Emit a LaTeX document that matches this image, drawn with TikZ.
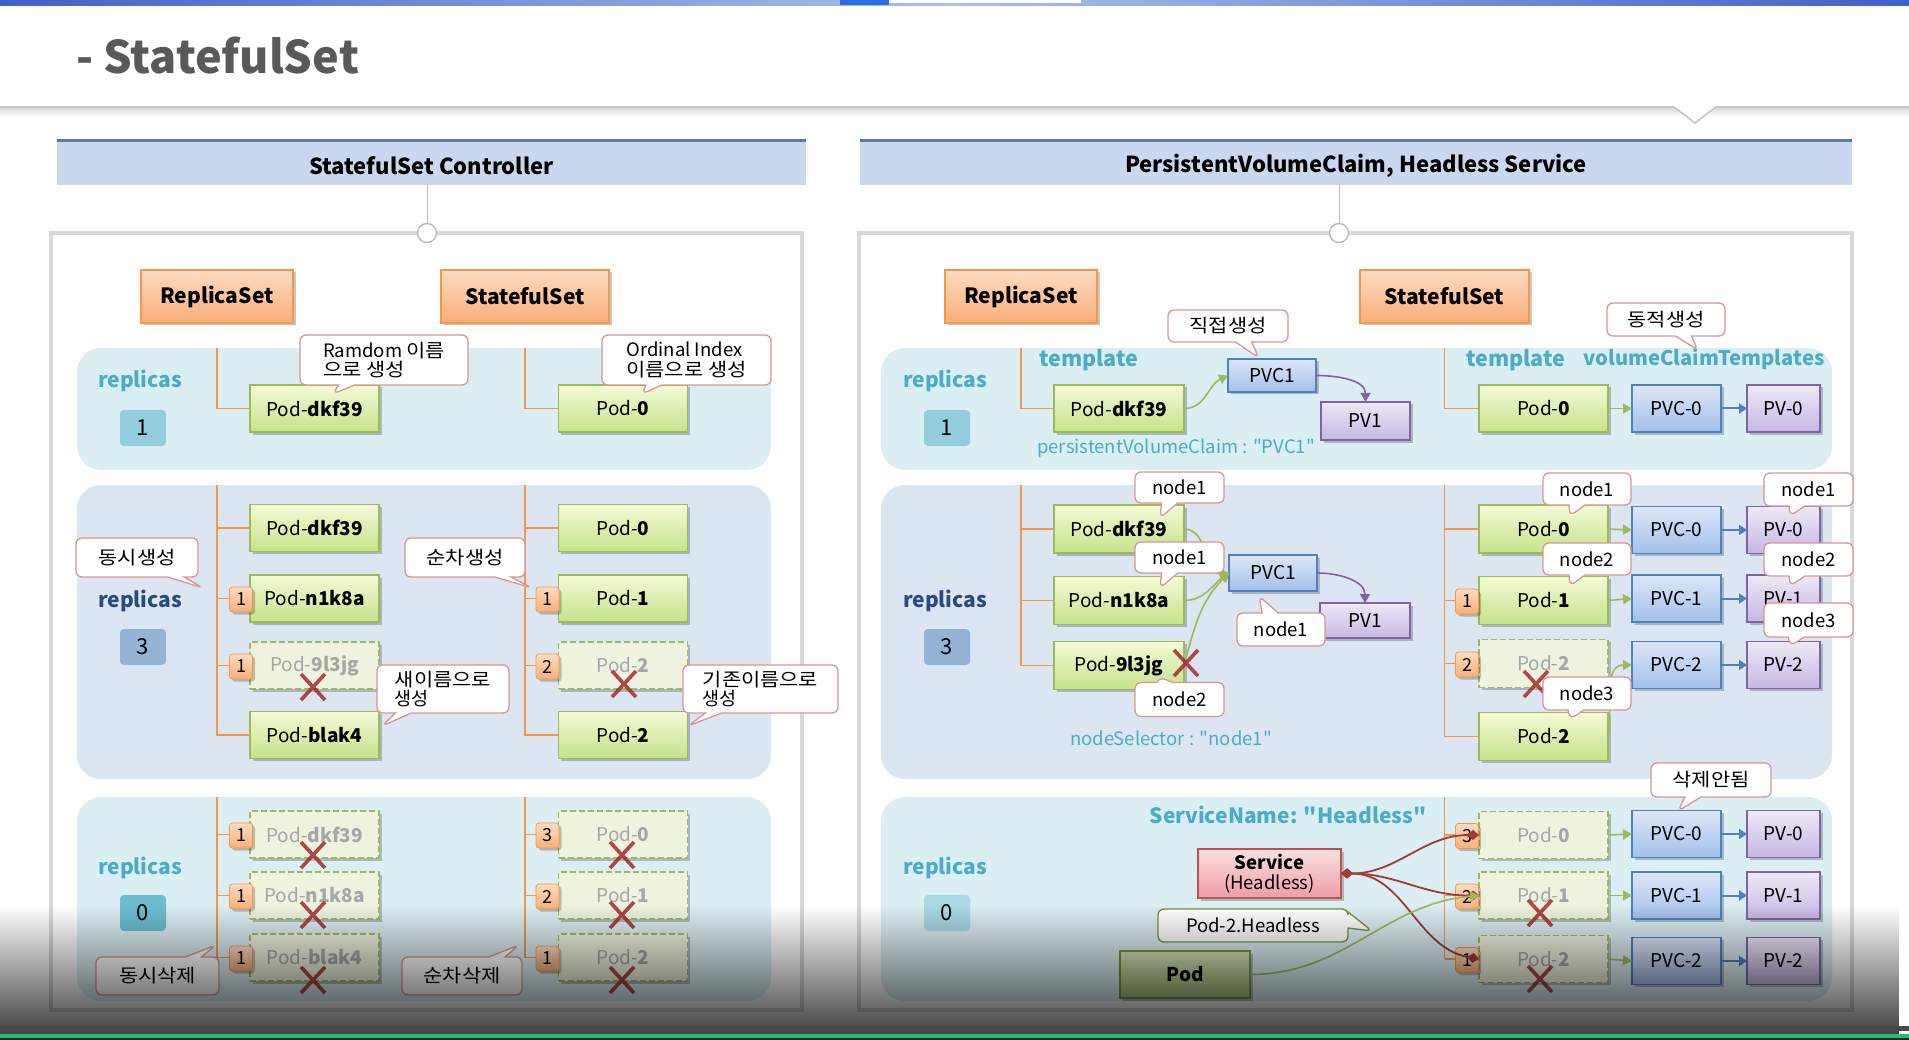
\documentclass[tikz,border=0pt]{standalone}
\usepackage{fontspec}
\setmainfont{Noto Sans CJK KR}
\newfontfamily\qfont{Noto Sans CJK KR}
\newfontfamily\kfont{Noto Sans CJK KR}[FakeStretch=1.13]
\usetikzlibrary{shapes.callouts,shadows,fadings,arrows.meta,calc}

\definecolor{stripblue}{HTML}{3E62C6}
\definecolor{striplight}{HTML}{A9C2E6}
\definecolor{stripdeep}{HTML}{2C6EE0}
\definecolor{titlegray}{HTML}{595959}
\definecolor{hdrfill}{HTML}{C9D8EF}
\definecolor{hdrline}{HTML}{5A7BAA}
\definecolor{panelln}{HTML}{D9D9D9}
\definecolor{bandcyan}{HTML}{DBEEF4}
\definecolor{bandblue}{HTML}{DCE6F2}
\definecolor{tealtxt}{HTML}{4BACC6}
\definecolor{navytxt}{HTML}{2A4C7C}
\definecolor{cntone}{HTML}{92CDDC}
\definecolor{cntthree}{HTML}{95B3D7}
\definecolor{cntzeroA}{HTML}{6DBDD1}
\definecolor{cntzeroB}{HTML}{A9D8E3}
\definecolor{orgtop}{HTML}{FDDCC2}
\definecolor{orgbot}{HTML}{F9AE78}
\definecolor{orgln}{HTML}{F79646}
\definecolor{podtop}{HTML}{F3FAD6}
\definecolor{podbot}{HTML}{C5E38A}
\definecolor{podln}{HTML}{9BBB59}
\definecolor{fadefill}{HTML}{EEF3DE}
\definecolor{fadetxt}{HTML}{A6A6A6}
\definecolor{pvctop}{HTML}{DCE7F7}
\definecolor{pvcbot}{HTML}{A3BFEB}
\definecolor{pvcln}{HTML}{4F81BD}
\definecolor{pvtop}{HTML}{EEE8F6}
\definecolor{pvbot}{HTML}{C7B6E3}
\definecolor{pvln}{HTML}{8064A2}
\definecolor{svctop}{HTML}{FBE0E0}
\definecolor{svcbot}{HTML}{EE9DA6}
\definecolor{svcln}{HTML}{C0504D}
\definecolor{olvtop}{HTML}{D7E4BD}
\definecolor{olvbot}{HTML}{A9C47C}
\definecolor{olvln}{HTML}{77933C}
\definecolor{callln}{HTML}{D99694}
\definecolor{xred}{HTML}{A8282C}
\definecolor{redln}{HTML}{A33A3A}
\definecolor{greenbar}{HTML}{21BF73}

\newcommand\fsTitle{\fontsize{45}{50}\selectfont\bfseries}
\newcommand\fsHead{\fontsize{22}{26}\selectfont\bfseries}
\newcommand\fsSet{\fontsize{21}{24}\selectfont\bfseries}
\newcommand\fsPod{\fontsize{19}{22}\selectfont}
\newcommand\fsRep{\fontsize{21}{24}\selectfont\bfseries}
\newcommand\fsTpl{\fontsize{21.5}{24}\selectfont\bfseries}
\newcommand\fsVct{\fontsize{20.2}{24}\selectfont\bfseries}
\newcommand\fsCnt{\fontsize{22}{24}\selectfont}
\newcommand\fsCall{\fontsize{18.5}{19.5}\selectfont}
\newcommand\fsNote{\fontsize{18.5}{22}\selectfont}
\newcommand\fsBadge{\fontsize{18}{20}\selectfont}
\newcommand\fsSvc{\fontsize{18.5}{20.5}\selectfont}
% straight double quote, kept out of the TeX quote mapping
\newcommand\dq{{\qfont"}}

\tikzfading[name=fadedown, top color=transparent!100, bottom color=transparent!22]

\tikzset{
  every node/.style={inner sep=0pt, outer sep=0pt},
  shadowed/.style={drop shadow={shadow xshift=2.5pt, shadow yshift=-2.5pt, opacity=0.22, fill=black}},
  hdrbar/.style={fill=hdrfill, minimum height=44},
  panel/.style={draw=panelln, line width=4pt, fill=white},
  hub/.style={circle, draw=gray!55, fill=white, line width=1.4pt, minimum size=19},
  band/.style={rounded corners=24pt},
  setbox/.style={shadowed, draw=orgln, line width=1.3pt, top color=orgtop, bottom color=orgbot, minimum height=53, font=\fsSet},
  pod/.style={shadowed, draw=podln, line width=1.3pt, top color=podtop, bottom color=podbot, minimum width=129, minimum height=47, font=\fsPod},
  gone/.style={shadowed, draw=podln, line width=1.3pt, dash pattern=on 6pt off 3pt, fill=fadefill, minimum width=129, minimum height=47, font=\fsPod, text=fadetxt},
  pvc/.style={shadowed, draw=pvcln, line width=1.3pt, top color=pvctop, bottom color=pvcbot, minimum width=89, minimum height=47, font=\fsPod},
  pv/.style={shadowed, draw=pvln, line width=1.3pt, top color=pvtop, bottom color=pvbot, minimum width=73, minimum height=47, font=\fsPod},
  svcbox/.style={shadowed, draw=svcln, line width=1.3pt, top color=svctop, bottom color=svcbot, align=center, font=\fsSvc},
  olvbox/.style={shadowed, draw=olvln, line width=1.3pt, top color=olvtop, bottom color=olvbot, font=\fsPod},
  badge/.style={shadowed, draw=orgln, line width=0.8pt, rounded corners=3pt, top color=orgtop, bottom color=orgbot, minimum width=23, minimum height=25, font=\fsBadge},
  cnt/.style={rounded corners=4pt, minimum width=46, minimum height=36, font=\fsCnt},
  rep/.style={font=\fsRep},
  note/.style={font=\fsNote, text=tealtxt},
  bubble/.style={rectangle callout, draw=callln, fill=white, line width=1.3pt, rounded corners=6pt, font=\fsCall, align=left, callout pointer width=16pt},
  treeln/.style={draw=orgln, line width=1.8pt},
  xmk/.style={draw=xred, line width=3.6pt, draw opacity=0.85},
  grn/.style={draw=podln, line width=1.6pt, -{Triangle[width=10pt,length=9pt]}},
  blu/.style={draw=pvcln, line width=2pt, -{Triangle[width=10pt,length=8pt]}},
  prp/.style={draw=pvln, line width=1.6pt, -{Triangle[width=10pt,length=9pt]}},
  svclink/.style={draw=redln, line width=1.8pt, {Diamond[width=10pt,length=12pt]}-{Diamond[width=10pt,length=12pt]}},
}

\newcommand\podtag[4]{\node[badge] (#1) at ($(#2.west)+(#4,1)$) {#3};}
\newcommand\redx[2]{\draw[xmk] (#1-12,#2-13) -- (#1+12,#2+13) (#1-12,#2+13) -- (#1+12,#2-13);}

\begin{document}
\begin{tikzpicture}[x=1pt,y=-1pt]
\useasboundingbox (0,0) rectangle (1909,1040);
\fill[white] (0,0) rectangle (1909,1040);

% slide strip, title and rule
\shade[left color=stripblue, right color=stripblue, middle color=striplight] (0,0) rectangle (1909,6);
\fill[stripdeep] (840,0) rectangle (889,5);
\fill[white] (889,0) rectangle (1081,3);
\node[font=\fsTitle, text=titlegray, anchor=west] (title) at (76,56) {- StatefulSet};
\shade[top color=gray!30, bottom color=white] (0,108) rectangle (1909,116);
\fill[white] (1672,106) -- (1695,124) -- (1718,106) -- cycle;
\draw[gray!45, line width=1.6pt] (0,107) -- (1674,107) -- (1695,123) -- (1716,107) -- (1909,107);

% ---------- section headers and panels ----------
\node[hdrbar, minimum width=749] (lhdr) at (431.5,163) {};
\draw[hdrline, line width=3pt] (lhdr.north west) -- (lhdr.north east);
\node[font=\fsHead] (lhdrtxt) at (431.5,166) {StatefulSet Controller};
\node[hdrbar, minimum width=992] (rhdr) at (1356,163) {};
\draw[hdrline, line width=3pt] (rhdr.north west) -- (rhdr.north east);
\node[font=\fsHead] (rhdrtxt) at (1356,166) {PersistentVolumeClaim, Headless Service};

\node[panel, minimum width=751, minimum height=777] (lpan) at (426.5,621.5) {};
\node[panel, minimum width=993, minimum height=777] (rpan) at (1355.5,621.5) {};
\node[hub] (lhub) at (427,233) {};
\node[hub] (rhub) at (1339,233) {};
\draw[gray!55, line width=1pt] (lhub.north) -- (lhub.north |- lhdr.south);
\draw[gray!55, line width=1pt] (rhub.north) -- (rhub.north |- rhdr.south);

% ---------- replica bands ----------
\node[band, fill=bandcyan, minimum width=694, minimum height=122] (lb1) at (424,409) {};
\node[band, fill=bandblue, minimum width=694, minimum height=294] (lb2) at (424,632) {};
\node[band, fill=bandcyan, minimum width=694, minimum height=204] (lb3) at (424,899) {};
\node[band, fill=bandcyan, minimum width=951, minimum height=122] (rb1) at (1356.5,409) {};
\node[band, fill=bandblue, minimum width=951, minimum height=294] (rb2) at (1356.5,632) {};
\node[band, fill=bandcyan, minimum width=951, minimum height=204] (rb3) at (1356.5,899) {};

\node[rep, text=tealtxt] (lr1) at (140,381) {replicas};
\node[rep, text=navytxt] (lr2) at (140,601) {replicas};
\node[rep, text=tealtxt] (lr3) at (140,868) {replicas};
\node[cnt, fill=cntone] (lc1) at (143,428) {1};
\node[cnt, fill=cntthree] (lc2) at (143,647) {3};
\node[cnt, fill=cntzeroA] (lc3) at (143,913) {0};
\node[rep, text=tealtxt] (rr1) at (945,381) {replicas};
\node[rep, text=navytxt] (rr2) at (945,601) {replicas};
\node[rep, text=tealtxt] (rr3) at (945,868) {replicas};
\node[cnt, fill=cntone] (rc1) at (947,428) {1};
\node[cnt, fill=cntthree] (rc2) at (947,647) {3};
\node[cnt, fill=cntzeroB] (rc3) at (947,913) {0};

% ---------- controllers ----------
\node[setbox, minimum width=152] (lrs) at (217,296.5) {ReplicaSet};
\node[setbox, minimum width=168] (lss) at (525,296.5) {StatefulSet};
\node[setbox, minimum width=152] (rrs) at (1021,296.5) {ReplicaSet};
\node[setbox, minimum width=169] (rss) at (1444.5,296.5) {StatefulSet};

% ---------- left panel pods ----------
\node[pod] (l1a) at (314.5,408.5) {Pod-\textbf{dkf39}};
\node[pod] (l1b) at (623,408.5) {Pod-\textbf{0}};

\node[pod] (l2a) at (314.5,528) {Pod-\textbf{dkf39}};
\node[pod] (l2b) at (314.5,598.5) {Pod-\textbf{n1k8a}};
\node[gone] (l2c) at (314.5,665.5) {Pod-\textbf{9l3jg}};
\node[pod] (l2d) at (314.5,735) {Pod-\textbf{blak4}};
\node[pod] (l2e) at (623,528) {Pod-\textbf{0}};
\node[pod] (l2f) at (623,598.5) {Pod-\textbf{1}};
\node[gone] (l2g) at (623,665.5) {Pod-\textbf{2}};
\node[pod] (l2h) at (623,735) {Pod-\textbf{2}};

\node[gone] (l3a) at (314.5,834.5) {Pod-\textbf{dkf39}};
\node[gone] (l3b) at (314.5,895.5) {Pod-\textbf{n1k8a}};
\node[gone] (l3c) at (314.5,957.5) {Pod-\textbf{blak4}};
\node[gone] (l3d) at (623,834.5) {Pod-\textbf{0}};
\node[gone] (l3e) at (623,895.5) {Pod-\textbf{1}};
\node[gone] (l3f) at (623,957.5) {Pod-\textbf{2}};

% ownership lines, left panel
\draw[treeln] (lrs.south |- lb1.north) |- (l1a.west);
\draw[treeln] (lss.south |- lb1.north) |- (l1b.west);
\draw[treeln] (lrs.south |- lb2.north) |- (l2d.west);
\foreach \p in {l2a,l2b,l2c} \draw[treeln] (lrs.south |- \p.west) -- (\p.west);
\draw[treeln] (lss.south |- lb2.north) |- (l2h.west);
\foreach \p in {l2e,l2f,l2g} \draw[treeln] (lss.south |- \p.west) -- (\p.west);
\draw[treeln] (lrs.south |- lb3.north) |- (l3c.west);
\foreach \p in {l3a,l3b} \draw[treeln] (lrs.south |- \p.west) -- (\p.west);
\draw[treeln] (lss.south |- lb3.north) |- (l3f.west);
\foreach \p in {l3d,l3e} \draw[treeln] (lss.south |- \p.west) -- (\p.west);

\podtag{tl2b}{l2b}{1}{-9}
\podtag{tl2c}{l2c}{1}{-9}
\podtag{tl2f}{l2f}{1}{-11}
\podtag{tl2g}{l2g}{2}{-11}
\podtag{tl3a}{l3a}{1}{-9}
\podtag{tl3b}{l3b}{1}{-9}
\podtag{tl3c}{l3c}{1}{-9}
\podtag{tl3d}{l3d}{3}{-11}
\podtag{tl3e}{l3e}{2}{-11}
\podtag{tl3f}{l3f}{1}{-11}

\redx{313}{687}
\redx{624}{684}
\redx{313}{855}
\redx{313}{915}
\redx{313}{980}
\redx{622}{855}
\redx{622}{915}
\redx{622}{980}

% ---------- right panel, replicas 1 ----------
\node[pod, minimum width=130] (r1a) at (1119,408.5) {Pod-\textbf{dkf39}};
\node[pvc, minimum width=88, minimum height=33] (r1p) at (1272,375.5) {PVC1};
\node[pv, minimum width=89, minimum height=38] (r1v) at (1365.5,421) {PV1};
\node[pod] (r1b) at (1543.5,408.5) {Pod-\textbf{0}};
\node[pvc] (r1c) at (1676.5,408.5) {PVC-0};
\node[pv] (r1d) at (1783.5,408.5) {PV-0};
\node[font=\fsTpl, text=tealtxt] (tpl1) at (1089,360) {template};
\node[font=\fsTpl, text=tealtxt] (tpl2) at (1516,360) {template};
\node[font=\fsVct, text=tealtxt] (vct) at (1704,359) {volumeClaimTemplates};
\node[note] (pvcnote) at (1176,448) {persistentVolumeClaim : \dq PVC1\dq};

\draw[treeln] (rrs.south |- rb1.north) |- (r1a.west);
\draw[treeln] (rss.south |- rb1.north) |- (r1b.west);
\draw[grn] (r1a.east) to[out=0,in=205] (r1p.west);
\draw[prp] (r1p.east) to[out=0,in=90] (r1v.north);
\draw[grn] (r1b.east) -- (r1c.west);
\draw[blu] (r1c.east) -- (r1d.west);

% ---------- right panel, replicas 3 ----------
\node[pod, minimum width=130, minimum height=48] (r2a) at (1119,529) {Pod-\textbf{dkf39}};
\node[pod, minimum width=130, minimum height=48] (r2b) at (1119,600.5) {Pod-\textbf{n1k8a}};
\node[pod, minimum width=130, minimum height=48] (r2c) at (1119,665.5) {Pod-\textbf{9l3jg}};
\node[pvc, minimum width=88, minimum height=36] (r2p) at (1273,573) {PVC1};
\node[pv, minimum width=90, minimum height=35] (r2v) at (1365,620.5) {PV1};

\node[pod, minimum height=48] (r2d) at (1543.5,529) {Pod-\textbf{0}};
\node[pod, minimum height=48] (r2e) at (1543.5,600.5) {Pod-\textbf{1}};
\node[gone, minimum height=48] (r2f) at (1543.5,663.5) {Pod-\textbf{2}};
\node[pod, minimum height=48] (r2g) at (1543.5,736.5) {Pod-\textbf{2}};
\node[pvc] (r2h) at (1676.5,530) {PVC-0};
\node[pvc] (r2i) at (1676.5,598.5) {PVC-1};
\node[pvc] (r2j) at (1676.5,665) {PVC-2};
\node[pv] (r2k) at (1783.5,530) {PV-0};
\node[pv] (r2l) at (1783.5,598.5) {PV-1};
\node[pv] (r2m) at (1783.5,665) {PV-2};
\node[note] (nsel) at (1171,738) {nodeSelector : \dq node1\dq};

\draw[treeln] (rrs.south |- rb2.north) |- (r2c.west);
\foreach \p in {r2a,r2b} \draw[treeln] (rrs.south |- \p.west) -- (\p.west);
\draw[treeln] (rss.south |- rb2.north) |- (r2g.west);
\foreach \p in {r2d,r2e,r2f} \draw[treeln] (rss.south |- \p.west) -- (\p.west);
\podtag{tr2e}{r2e}{1}{-12}
\podtag{tr2f}{r2f}{2}{-12}

\draw[grn] (r2a.east) to[out=0,in=185] (r2p.west);
\draw[grn] (r2b.east) to[out=0,in=215] (r2p.west);
\draw[grn] (r2c.east) to[out=75,in=225] (r2p.west);
\draw[prp] (r2p.east) to[out=0,in=90] (r2v.north);
\draw[grn] (r2d.east) -- (r2h.west);
\draw[grn] (r2e.east) -- (r2i.west);
\draw[grn] (r2g.east) to[out=80,in=180] (r2j.west);
\draw[blu] (r2h.east) -- (r2k.west);
\draw[blu] (r2i.east) -- (r2l.west);
\draw[blu] (r2j.east) -- (r2m.west);
\redx{1186}{663}
\redx{1536}{684}

% ---------- right panel, replicas 0 ----------
\node[gone] (r3a) at (1543.5,835) {Pod-\textbf{0}};
\node[gone] (r3b) at (1543.5,895.5) {Pod-\textbf{1}};
\node[gone] (r3c) at (1543.5,959) {Pod-\textbf{2}};
\node[pvc] (r3d) at (1676.5,834) {PVC-0};
\node[pvc] (r3e) at (1676.5,895.5) {PVC-1};
\node[pvc] (r3f) at (1676.5,961) {PVC-2};
\node[pv] (r3g) at (1783.5,834) {PV-0};
\node[pv] (r3h) at (1783.5,895.5) {PV-1};
\node[pv] (r3i) at (1783.5,961) {PV-2};
\node[font=\fsRep, text=tealtxt] (svcname) at (1288,815) {ServiceName: \dq Headless\dq};
\node[svcbox, minimum width=143, minimum height=49] (svc) at (1269.5,873.5) {\textbf{Service}\\(Headless)};
\node[olvbox, minimum width=130, minimum height=47] (opod) at (1185,974.5) {\textbf{Pod}};

\draw[treeln] (rss.south |- rb3.north) -- (rss.south |- r3c.west);
\foreach \p in {r3a,r3b,r3c} \draw[treeln] (rss.south |- \p.west) -- (\p.west);
\podtag{tr3a}{r3a}{3}{-12}
\podtag{tr3b}{r3b}{2}{-12}
\podtag{tr3c}{r3c}{1}{-12}

\draw[grn] (r3a.east) -- (r3d.west);
\draw[grn] (r3b.east) -- (r3e.west);
\draw[grn] (r3c.east) -- (r3f.west);
\draw[blu] (r3d.east) -- (r3g.west);
\draw[blu] (r3e.east) -- (r3h.west);
\draw[blu] (r3f.east) -- (r3i.west);
\redx{1540}{913}
\redx{1540}{979}

\draw[svclink] (svc.east) to[out=0,in=180] (r3a.west);
\draw[svclink] (svc.east) to[out=0,in=180] (r3b.west);
\draw[svclink] (svc.east) to[out=0,in=170] (r3c.west);
\draw[grn] (opod.east) to[out=0,in=185] (r3b.west);

% ---------- callouts ----------
\node[bubble, minimum width=168, minimum height=50, callout absolute pointer={(333,394)}] (cRand) at (384,360) {Ramdom {\kfont 이름}\\{\kfont 으로 생성}};
\node[bubble, minimum width=169, minimum height=50, callout absolute pointer={(642,394)}] (cOrd) at (686.5,360) {Ordinal Index\\{\kfont 이름으로 생성}};
\node[bubble, minimum width=122, minimum height=39, callout absolute pointer={(203,588)}] (cSim) at (137,557.5) {\kfont 동시생성};
\node[bubble, minimum width=120, minimum height=39, callout absolute pointer={(532,588)}] (cSeq) at (465,557.5) {\kfont 순차생성};
\node[bubble, minimum width=132, minimum height=48, callout absolute pointer={(382,726)}] (cNew) at (443,689) {\kfont 새이름으로\\생성};
\node[bubble, minimum width=155, minimum height=48, callout absolute pointer={(688,726)}] (cOld) at (760.5,689) {\kfont 기존이름으로\\생성};
\node[bubble, minimum width=123, minimum height=38, callout absolute pointer={(216,945)}] (cDelA) at (157.5,976) {\kfont 동시삭제};
\node[bubble, minimum width=120, minimum height=38, callout absolute pointer={(519,945)}] (cDelB) at (462,976) {\kfont 순차삭제};

\node[bubble, minimum width=120, minimum height=32, callout absolute pointer={(1259,358)}] (cDirect) at (1228,326) {\kfont 직접생성};
\node[bubble, minimum width=118, minimum height=33, callout absolute pointer={(1698,350)}] (cDyn) at (1666,319.5) {\kfont 동적생성};

\node[bubble, align=center, minimum width=89, minimum height=31, callout absolute pointer={(1160,518)}] (n1) at (1179.5,487.5) {node1};
\node[bubble, align=center, minimum width=89, minimum height=31, callout absolute pointer={(1160,588)}] (n2) at (1179.5,557.5) {node1};
\node[bubble, align=center, minimum width=88, minimum height=33, callout absolute pointer={(1259,596)}] (n3) at (1281,629.5) {node1};
\node[bubble, align=center, minimum width=89, minimum height=34, callout absolute pointer={(1160,677)}] (n4) at (1179.5,699.5) {node2};
\node[bubble, align=center, minimum width=88, minimum height=32, callout absolute pointer={(1570,516)}] (n5) at (1587,489) {node1};
\node[bubble, align=center, minimum width=88, minimum height=32, callout absolute pointer={(1570,586)}] (n6) at (1587,559) {node2};
\node[bubble, align=center, minimum width=88, minimum height=33, callout absolute pointer={(1570,719)}] (n7) at (1587,693.5) {node3};
\node[bubble, align=center, minimum width=89, minimum height=33, callout absolute pointer={(1790,516)}] (n8) at (1808.5,489.5) {node1};
\node[bubble, align=center, minimum width=89, minimum height=33, callout absolute pointer={(1790,586)}] (n9) at (1808.5,559.5) {node2};
\node[bubble, align=center, minimum width=89, minimum height=34, callout absolute pointer={(1790,646)}] (n10) at (1808.5,620) {node3};
\node[bubble, align=center, minimum width=120, minimum height=34, callout absolute pointer={(1678,811)}] (cKeep) at (1711,780) {\kfont 삭제안됨};
\node[bubble, draw=olvln, align=center, minimum width=190, minimum height=33, callout absolute pointer={(1372,931)}] (cDns) at (1253,925.5) {Pod-2.Headless};

% ---------- lower screen fade ----------
\fill[black, path fading=fadedown] (0,905) rectangle (1909,1040);
\fill[black!72] (0,1026) rectangle (1909,1031);
\fill[greenbar] (0,1034) rectangle (1909,1038);
\fill[black!85] (0,1038) rectangle (1909,1040);
\end{tikzpicture}
\end{document}
